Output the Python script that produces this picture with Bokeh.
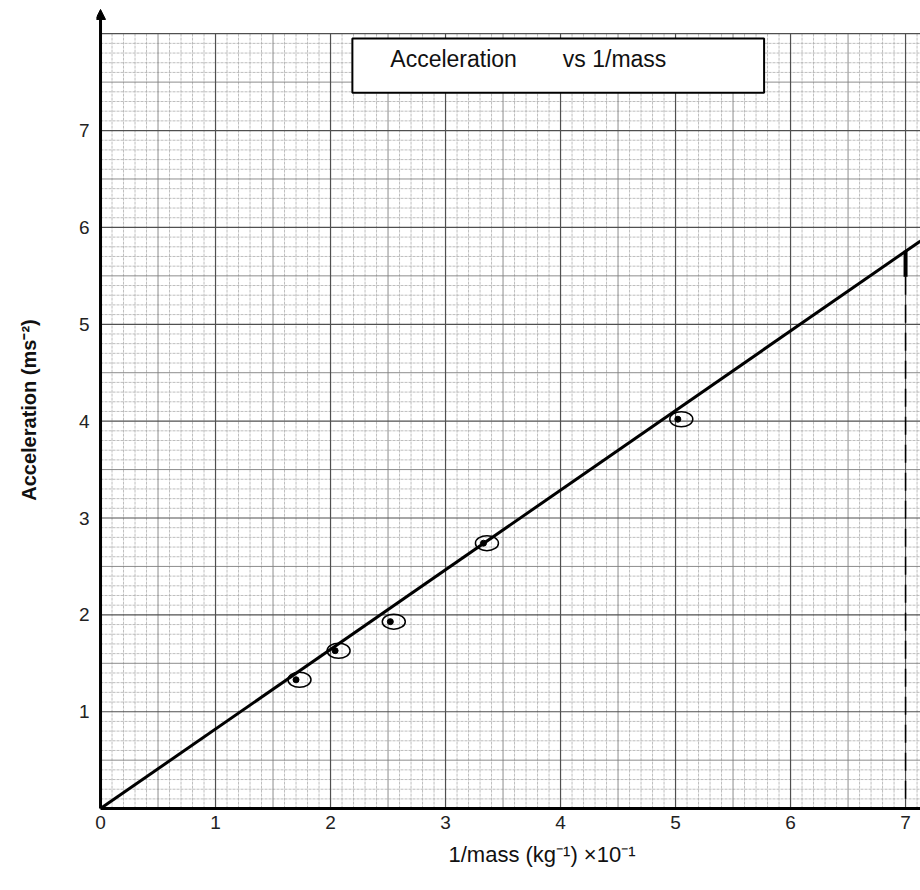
import numpy as np
from bokeh.plotting import figure
from bokeh.models import (Range1d, FixedTicker, Label, Arrow, NormalHead,
                          ColumnDataSource, Title)
from bokeh.transform import dodge
from bokeh.embed import file_html
from bokeh.resources import INLINE

# ---- data ----
inv_mass = [1.70, 2.04, 2.52, 3.33, 5.02]      # 1/mass (kg^-1) x10^-1
accel = [1.33, 1.63, 1.93, 2.74, 4.02]         # acceleration (m s^-2)
fit_x = [0.0, 7.13]
fit_y = [0.0, 5.86]
read_x = [7.0]
read_y = [5.76]
x_ticks = [0, 1, 2, 3, 4, 5, 6, 7]
y_ticks = [1, 2, 3, 4, 5, 6, 7]
title_left = "Acceleration"
title_right = "vs 1/mass"
x_label = "1/mass (kg\u207b\u00b9) \u00d710\u207b\u00b9"
y_label = "Acceleration (ms\u207b\u00b2)"

FONT = "Liberation Sans"
X0, X1 = -0.035, 7.13
Y0, Y1 = -0.03, 8.26
GX1, GY1 = X1, 8.0

p = figure(width=920, height=888, output_backend="svg", toolbar_location=None,
           x_range=Range1d(X0, X1), y_range=Range1d(Y0, Y1),
           min_border_left=96, min_border_right=0, min_border_top=8,
           min_border_bottom=77)
p.outline_line_color = None
p.xgrid.visible = False
p.ygrid.visible = False

# ---- graph-paper grid ----
def grid(step_vals, color, width, dash):
    xs = [v for v in step_vals if 0 < v <= GX1]
    ys = [v for v in step_vals if 0 < v <= GY1]
    p.segment(x0=xs, y0=[0] * len(xs), x1=xs, y1=[GY1] * len(xs),
              line_color=color, line_width=width, line_dash=dash)
    p.segment(x0=[0] * len(ys), y0=ys, x1=[GX1] * len(ys), y1=ys,
              line_color=color, line_width=width, line_dash=dash)

fine = np.round(np.arange(0.1, 8.01, 0.1), 2)
fine = [float(v) for v in fine if abs(v * 2 - round(v * 2)) > 1e-6]
half = [v + 0.5 for v in range(0, 8)]
whole = list(range(1, 9))
grid(fine, "#a8a8a8", 0.75, "3 1")
grid(half, "#808080", 0.9, "solid")
grid(whole, "#505050", 1.2, "solid")

# ---- title box ----
p.quad(left=[2.19], right=[5.77], top=[7.95], bottom=[7.39],
       fill_color="white", line_color="black", line_width=2)
p.add_layout(Label(x=2.52, y=7.74, text=title_left, text_font=FONT,
                   text_font_size="23px", text_baseline="middle",
                   text_color="#111111"))
p.add_layout(Label(x=4.02, y=7.74, text=title_right, text_font=FONT,
                   text_font_size="23px", text_baseline="middle",
                   text_color="#111111"))

# ---- axes lines ----
p.segment(x0=[0], y0=[0], x1=[X1], y1=[0], line_color="black", line_width=3)
p.add_layout(Arrow(x_start=0, y_start=0, x_end=0, y_end=Y1 - 0.01,
                   line_color="black", line_width=3,
                   end=NormalHead(size=10, fill_color="black",
                                  line_color="black")))

# ---- best-fit line and reading ----
p.line(fit_x, fit_y, line_color="black", line_width=3)
p.segment(x0=read_x, y0=read_y, x1=read_x, y1=[read_y[0] - 0.27],
          line_color="black", line_width=4)
p.segment(x0=read_x, y0=[read_y[0] - 0.27], x1=read_x, y1=[0],
          line_color="black", line_width=1.5, line_dash="18 10")

# ---- data points ----
src = ColumnDataSource(data=dict(x=inv_mass, y=accel))
p.scatter("x", "y", source=src, size=6, color="black")
p.ellipse(x=dodge("x", 0.03), y="y", source=src, width=23, height=15,
          width_units="screen", height_units="screen", fill_color=None,
          line_color="black", line_width=1.5)

# ---- axis styling ----
p.xaxis.ticker = FixedTicker(ticks=x_ticks)
p.yaxis.ticker = FixedTicker(ticks=y_ticks)
for ax in (p.xaxis, p.yaxis):
    ax.axis_line_color = None
    ax.major_tick_line_color = None
    ax.minor_tick_line_color = None
    ax.major_label_text_font = FONT
    ax.major_label_text_font_size = "19px"
    ax.major_label_text_color = "#222222"
    ax.axis_label_text_font = FONT
    ax.axis_label_text_color = "#111111"

p.xaxis.major_label_standoff = -2

# x-axis title sits right of centre in the reference
p.add_layout(Title(text=x_label, text_font=FONT, text_font_size="22px",
                   text_font_style="normal", text_color="#111111",
                   align="left", offset=352, standoff=16), "below")

p.yaxis.axis_label = y_label
p.yaxis.axis_label_text_font_size = "20px"
p.yaxis.axis_label_text_font_style = "bold"
p.yaxis.major_label_standoff = 1
p.yaxis.axis_label_standoff = 36

open("out.html", "w").write(file_html(p, INLINE))
